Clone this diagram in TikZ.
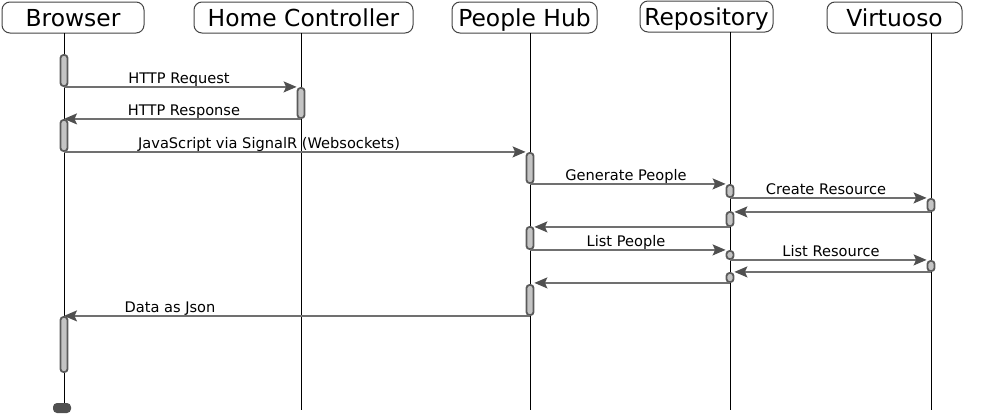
\documentclass[tikz,border=0pt]{standalone}
\usepackage{fontspec}
\setmainfont{DejaVu Sans}
\usetikzlibrary{arrows.meta}

\definecolor{boxline}{HTML}{444444}
\definecolor{actdraw}{HTML}{5A5A5A}
\definecolor{actfill}{HTML}{C4C4C4}
\definecolor{msggray}{HTML}{707070}
\definecolor{tipgray}{HTML}{505050}

\tikzset{
  head/.style={draw=boxline, line width=1pt, rounded corners=8pt, minimum height=31pt, inner sep=0pt, text height=17pt, text depth=0pt, font=\fontsize{23.4}{28}\selectfont},
  act/.style={draw=actdraw, fill=actfill, line width=1.8pt, rounded corners=3pt, minimum width=7pt, inner sep=0pt},
  msg/.style={draw=msggray, line width=1.4pt, -{Stealth[length=13pt,width=11pt,inset=2.5pt,color=tipgray]}},
  lbl/.style={anchor=base, inner sep=0pt, font=\fontsize{14.6}{17}\selectfont},
  life/.style={black, line width=1pt}
}

\begin{document}
\begin{tikzpicture}[x=1pt, y=-1pt]
\useasboundingbox (0,0) rectangle (999,413);

% participants
\node[head, minimum width=142pt] (browser) at (73,17.5) {Browser};
\node[head, minimum width=219pt] (home) at (303.5,17.5) {Home Controller};
\node[head, minimum width=145pt] (hub) at (524.5,17.5) {People Hub};
\node[head, minimum width=133pt] (repo) at (706.5,16.5) {Repository};
\node[head, minimum width=135pt] (virt) at (894.5,17.5) {Virtuoso};

% lifelines
\node[fill=tipgray, rounded corners=4pt, minimum width=18pt, minimum height=10pt, inner sep=0pt] (bend) at (62,408) {};
\coordinate (btop) at (64,33);
\coordinate (htop) at (301,33);
\coordinate (hbot) at (301,410);
\coordinate (ptop) at (530,33);
\coordinate (pbot) at (530,410);
\coordinate (rtop) at (730,32);
\coordinate (rbot) at (730,410);
\coordinate (vtop) at (931,33);
\coordinate (vbot) at (931,410);
\draw[life] (btop) -- (btop |- bend.north);
\draw[life] (htop) -- (hbot);
\draw[life] (ptop) -- (pbot);
\draw[life] (rtop) -- (rbot);
\draw[life] (vtop) -- (vbot);

% activations
\node[act, minimum height=31pt] (ba1) at (64,70.5) {};
\node[act, minimum height=31pt] (ba2) at (64,135.5) {};
\node[act, minimum height=55pt] (ba3) at (64,344.5) {};
\node[act, minimum height=30pt] (ha1) at (301,103) {};
\node[act, minimum height=30pt] (pa1) at (530,168) {};
\node[act, minimum height=22pt] (pa2) at (530,238) {};
\node[act, minimum height=30pt] (pa3) at (530,300) {};
\node[act, minimum height=12pt] (ra1) at (730,191) {};
\node[act, minimum height=14pt] (ra2) at (730,219) {};
\node[act, minimum height=8pt] (ra3) at (730,255) {};
\node[act, minimum height=9pt] (ra4) at (730,277.5) {};
\node[act, minimum height=12pt] (va1) at (931,205) {};
\node[act, minimum height=10pt] (va2) at (931,266) {};

% messages
\draw[msg] (ba1.south) -- (ba1.south -| ha1.west);
\draw[msg] (ha1.south) -- (ha1.south -| ba2.north);
\draw[msg] (ba2.south) -- (ba2.south -| pa1.west);
\draw[msg] (pa1.south) -- (pa1.south -| ra1.west);
\draw[msg] (ra1.south) -- (ra1.south -| va1.west);
\draw[msg] (va1.south) -- (va1.south -| ra2.east);
\draw[msg] (ra2.south) -- (ra2.south -| pa2.east);
\draw[msg] (pa2.south) -- (pa2.south -| ra3.west);
\draw[msg] (ra3.south) -- (ra3.south -| va2.west);
\draw[msg] (va2.south) -- (va2.south -| ra4.east);
\draw[msg] (ra4.south) -- (ra4.south -| pa3.east);
\draw[msg] (pa3.south) -- (pa3.south -| ba3.north);

% message labels
\node[lbl] (l1) at (179,83) {HTTP Request};
\node[lbl] (l2) at (184,115) {HTTP Response};
\node[lbl] (l3) at (269,148) {JavaScript via SignalR (Websockets)};
\node[lbl] (l4) at (626,180.5) {Generate People};
\node[lbl] (l5) at (826,194) {Create Resource};
\node[lbl] (l6) at (626,246.5) {List People};
\node[lbl] (l7) at (831,256.5) {List Resource};
\node[lbl] (l8) at (170,312) {Data as Json};

\end{tikzpicture}
\end{document}
